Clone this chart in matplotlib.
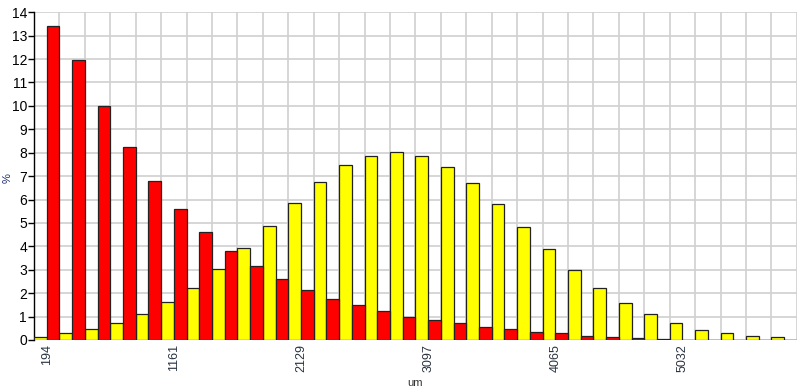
import matplotlib
matplotlib.use("Agg")
import matplotlib.pyplot as plt
import numpy as np

plt.rcParams['font.family'] = ['Liberation Sans Narrow', 'Liberation Sans', 'DejaVu Sans']

# size classes (um), one label every 5 bins
tick_labels = ["194", "1161", "2129", "3097", "4065", "5032"]

yellow_vals = [0.11, 0.28, 0.47, 0.71, 1.10, 1.61, 2.23, 3.03, 3.94, 4.88,
               5.85, 6.73, 7.46, 7.87, 8.01, 7.87, 7.40, 6.69, 5.83, 4.84,
               3.88, 2.99, 2.23, 1.59, 1.10, 0.74, 0.44, 0.30, 0.16, 0.11]
red_vals = [13.41, 11.94, 10.00, 8.25, 6.79, 5.59, 4.60, 3.80, 3.14, 2.62,
            2.13, 1.75, 1.48, 1.22, 0.99, 0.85, 0.71, 0.57, 0.47, 0.33,
            0.28, 0.18, 0.14, 0.10, 0.03, 0.02, 0.02, 0.01, 0.01, 0.01]

n = len(red_vals)
x = np.arange(n)

fig = plt.figure(figsize=(8, 3.92), dpi=100)
ax = fig.add_axes([0.0425, 0.1327, 0.9535, 0.836])

ax.bar(x - 0.25, yellow_vals, width=0.5, color="#ffff00", edgecolor="#222222", linewidth=0.9, zorder=3)
ax.bar(x + 0.25, red_vals, width=0.5, color="#ff0000", edgecolor="#222222", linewidth=0.9, zorder=3)

ax.set_xlim(-0.5, n - 0.5)
ax.set_ylim(0, 14)
ax.set_yticks(range(0, 15))

ax.set_xticks(np.arange(0, n, 5))
ax.set_xticklabels(tick_labels, rotation=90, fontsize=9, color="#2a3340")
ax.set_xticks(np.arange(-0.5, n, 1), minor=True)
ax.tick_params(axis='x', which='both', length=0, pad=3)
ax.tick_params(axis='y', length=4, width=1, labelsize=10, pad=1, color="black")

ax.grid(True, which='minor', axis='x', color="#d0d0d0", linewidth=1.2, zorder=0)
ax.grid(True, which='major', axis='y', color="#d0d0d0", linewidth=1.2, zorder=0)

for s in ["top", "right", "bottom"]:
    ax.spines[s].set_visible(False)
ax.spines["left"].set_color("black")
ax.spines["left"].set_linewidth(1)

# '%' label sits right at the left edge of the picture
fig.text(8 / 800, 1 - 178 / 392, "%", rotation=90, fontsize=8, color="#1a2a6a",
         ha="center", va="center")
ax.set_xlabel("um", fontsize=8, color="#333333", labelpad=4)

plt.savefig("out.png", dpi=100)
